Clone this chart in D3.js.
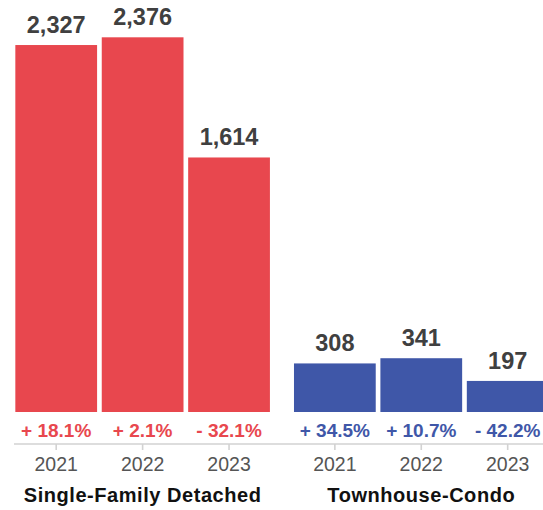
<!DOCTYPE html>
<html>
<head>
<meta charset="utf-8">
<script src="https://cdn.jsdelivr.net/npm/d3@7"></script>
<style>
  html, body { margin: 0; padding: 0; background: #fff; }
  svg { display: block; font-family: "Liberation Sans", Arial, Helvetica, sans-serif; }
</style>
</head>
<body>
<svg id="chart" width="543" height="510"></svg>
<script>
// Closed sales by property type, 2021–2023
const groups = ["Single-Family Detached", "Townhouse-Condo"];
const years = ["2021", "2022", "2023"];
const singleFamily = [2327, 2376, 1614];
const townhouseCondo = [308, 341, 197];
const singleFamilyChange = ["+ 18.1%", "+ 2.1%", "- 32.1%"];
const townhouseCondoChange = ["+ 34.5%", "+ 10.7%", "- 42.2%"];
const groupColors = ["#e8474e", "#3f57a8"];

const rows = [
  { group: groups[0], values: singleFamily, change: singleFamilyChange, color: groupColors[0] },
  { group: groups[1], values: townhouseCondo, change: townhouseCondoChange, color: groupColors[1] }
];

const svg = d3.select("#chart");
const baseY = 412;
const axisY = 444;

const x0 = d3.scaleBand().domain(groups).range([13, 550.9]).paddingInner(0.0696).paddingOuter(0);
const x1 = d3.scaleBand().domain(years).range([0, x0.bandwidth()]).paddingInner(0.054).paddingOuter(0.027);
const y = d3.scaleLinear().domain([0, 2400]).range([baseY, baseY - 2400 * 0.1577]);

// baseline rule under the change labels
svg.append("line")
  .attr("x1", 14).attr("x2", 543)
  .attr("y1", axisY).attr("y2", axisY)
  .attr("stroke", "#d2d2d2").attr("stroke-width", 1.6);

const g = svg.selectAll("g.group")
  .data(rows)
  .join("g")
  .attr("class", "group")
  .attr("transform", d => `translate(${x0(d.group)},0)`);

// year axis per group
g.each(function (d) {
  const axis = d3.axisBottom(x1).tickSizeOuter(0).tickSizeInner(6).tickPadding(8);
  const a = d3.select(this).append("g")
    .attr("transform", `translate(0,${axisY})`)
    .call(axis);
  a.select(".domain").remove();
  a.selectAll(".tick line").attr("stroke", "#d2d2d2").attr("stroke-width", 1.6);
  a.selectAll(".tick text")
    .attr("fill", "#555")
    .style("font-size", "19.5px")
    .style("font-family", "'Liberation Sans', Arial, sans-serif")
    .attr("dy", null)
    .attr("y", 27);
});

const items = d => d.values.map((v, i) => ({ year: years[i], value: v, change: d.change[i], color: d.color }));

g.selectAll("rect")
  .data(items)
  .join("rect")
  .attr("x", d => x1(d.year))
  .attr("width", x1.bandwidth())
  .attr("y", d => y(d.value))
  .attr("height", d => baseY - y(d.value))
  .attr("fill", d => d.color);

g.selectAll("text.value")
  .data(items)
  .join("text")
  .attr("class", "value")
  .attr("x", d => x1(d.year) + x1.bandwidth() / 2)
  .attr("y", d => y(d.value) - 12)
  .attr("text-anchor", "middle")
  .attr("fill", "#404040")
  .style("font-size", "23.5px")
  .style("font-weight", "bold")
  .text(d => d3.format(",")(d.value));

g.selectAll("text.change")
  .data(items)
  .join("text")
  .attr("class", "change")
  .attr("x", d => x1(d.year) + x1.bandwidth() / 2)
  .attr("y", 437)
  .attr("text-anchor", "middle")
  .attr("fill", d => d.color)
  .style("font-size", "19px")
  .style("font-weight", "bold")
  .text(d => d.change);

g.append("text")
  .attr("x", x1("2022") + x1.bandwidth() / 2)
  .attr("y", 502)
  .attr("text-anchor", "middle")
  .attr("fill", "#111")
  .style("font-size", "20px")
  .style("font-weight", "bold")
  .style("letter-spacing", "0.55px")
  .text(d => d.group);
</script>
</body>
</html>
